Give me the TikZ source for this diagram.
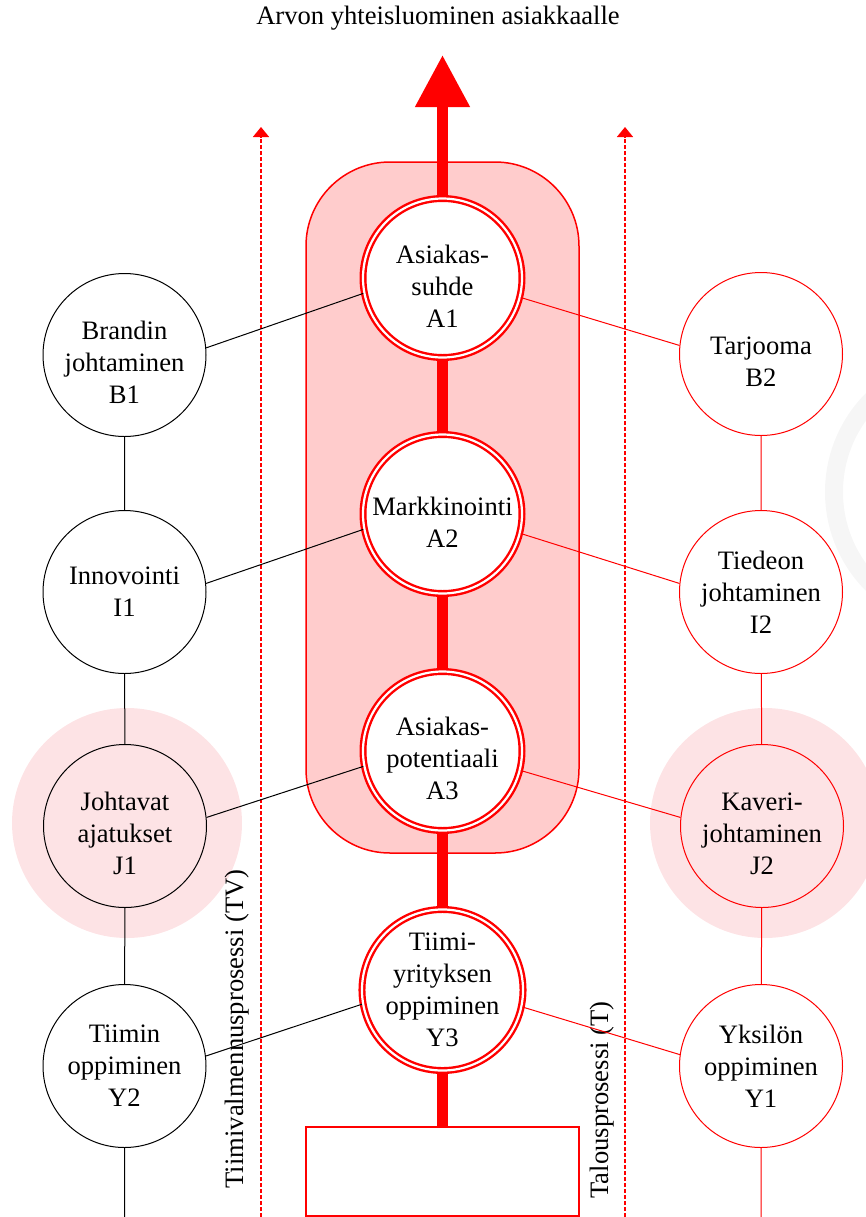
\documentclass[tikz,border=0pt]{standalone}
\usepackage{fontspec}
\setmainfont{Liberation Serif}
\definecolor{boxpink}{RGB}{255,204,204}
\definecolor{halopink}{RGB}{253,227,229}
\definecolor{markgray}{RGB}{246,246,246}
\usetikzlibrary{arrows.meta,positioning}
\newcommand{\ala}{\rule{0pt}{17pt}}
\tikzset{
  ydin/.style={circle, draw=red, line width=1.2pt, double=white, double distance=1.1pt, fill=white, minimum size=79.5pt, inner sep=0pt, align=center},
  vasen/.style={circle, draw=black, line width=0.5pt, minimum size=81.5pt, inner sep=0pt, align=center},
  oikea/.style={vasen, draw=red},
  selkaranka/.style={red, line width=5.5pt},
  prosessi/.style={red, line width=0.75pt, dash pattern=on 2pt off 1pt, -{Triangle[width=8pt,length=5pt]}},
  musta/.style={black, line width=0.5pt},
  punainen/.style={red, line width=0.5pt}
}

\begin{document}
\begin{tikzpicture}[x=0.5pt, y=-0.5pt, every node/.style={font=\fontsize{13.3}{16}\selectfont}]
  \useasboundingbox (0,0) rectangle (866,1217);
  \clip (0,0) rectangle (866,1217);

  % Background ring and highlight halos
  \draw[line width=9pt, markgray] (965,492) circle (65.5pt);
  \fill[halopink] (127,823) circle (57.5pt);
  \fill[halopink] (765,823) circle (57.5pt);

  % Value creation area
  \node[draw=red, fill=boxpink, line width=0.75pt, rounded corners=42pt, minimum width=136.5pt, minimum height=345.5pt] (arvo) at (442.5,507.5) {};

  % Process arrows
  \coordinate (tv0) at (261,1217);
  \coordinate (tv1) at (261,127);
  \coordinate (t0) at (625,1217);
  \coordinate (t1) at (625,127);
  \draw[prosessi] (tv0) -- (tv1);
  \draw[prosessi] (t0) -- (t1);
  \node[rotate=90] (tvlabel) at (237,1029) {Tiimivalmennusprosessi (TV)};
  \node[rotate=90] (tlabel) at (602,1100) {Talousprosessi (T)};

  % Core chain
  \node (otsikko) at (438,18) {Arvon yhteisluominen asiakkaalle};
  \coordinate (goal) at (442.5,55);
  \node[ydin] (a1) at (442.5,278) {\ala Asiakas-\\suhde\\A1};
  \node[ydin] (a2) at (442.5,514) {\ala Markkinointi\\A2};
  \node[ydin] (a3) at (442.5,751) {\ala Asiakas-\\potentiaali\\A3};
  \node[ydin] (y3) at (442.5,990) {Tiimi-\\yrityksen\\oppiminen\\Y3};
  \node[draw=red, line width=0.7pt, minimum width=136.5pt, minimum height=44.5pt] (pohja) at (442.5,1171.5) {};

  % Left column
  \node[vasen] (b1) at (124.5,355) {\ala Brandin\\johtaminen\\B1};
  \node[vasen] (i1) at (124.5,592) {Innovointi\\I1};
  \node[vasen] (j1) at (125,826) {\ala Johtavat\\ajatukset\\J1};
  \node[vasen] (y2) at (124.5,1066) {Tiimin\\oppiminen\\Y2};
  \coordinate (vbot) at (124.5,1217);

  % Right column
  \node[oikea] (b2) at (761,354) {\ala Tarjooma\\B2};
  \node[oikea] (i2) at (761,592) {Tiedeon\\johtaminen\\I2};
  \node[oikea] (j2) at (762,826) {\ala Kaveri-\\johtaminen\\J2};
  \node[oikea] (y1) at (761,1066) {Yksilön\\oppiminen\\Y1};
  \coordinate (obot) at (761,1217);

  % Spine
  \draw[selkaranka, -{Triangle[width=26pt,length=26pt]}] (a1) -- (goal);
  \draw[selkaranka] (a1) -- (a2);
  \draw[selkaranka] (a2) -- (a3);
  \draw[selkaranka] (a3) -- (y3);
  \draw[selkaranka] (y3) -- (pohja);

  % Columns
  \draw[musta] (b1) -- (i1) -- (j1) -- (y2) -- (vbot);
  \draw[punainen] (b2) -- (i2) -- (j2) -- (y1) -- (obot);

  % Links to the sides
  \draw[musta] (a1.191) -- (b1.5);
  \draw[musta] (a2.191) -- (i1.6);
  \draw[musta] (a3.191) -- (j1.6);
  \draw[musta] (y3.190) -- (y2.7);
  \draw[punainen] (a1.346) -- (b2.174);
  \draw[punainen] (a2.346) -- (i2.174);
  \draw[punainen] (a3.346) -- (j2.174);
  \draw[punainen] (y3.348) -- (y1.172);
\end{tikzpicture}
\end{document}
